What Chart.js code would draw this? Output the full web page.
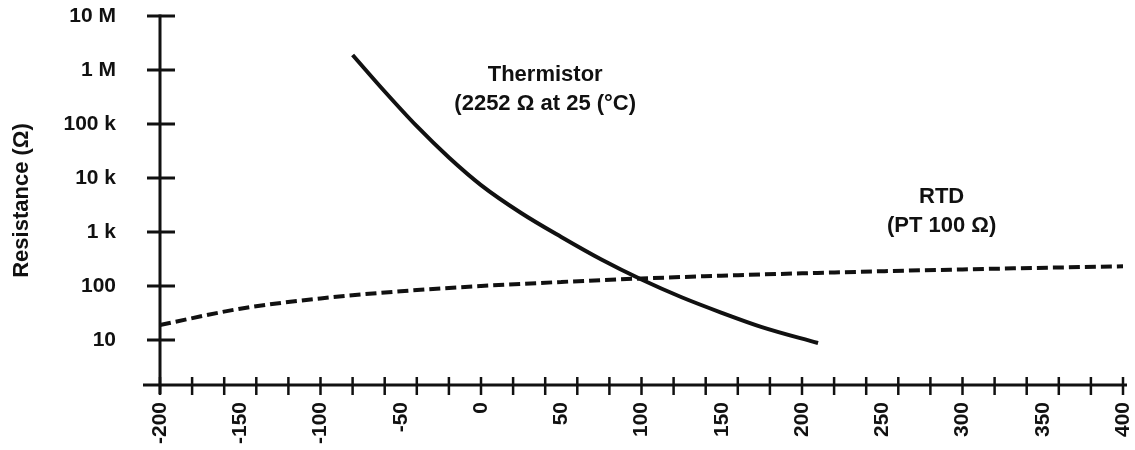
<!DOCTYPE html>
<html>
<head>
<meta charset="utf-8">
<script src="https://cdn.jsdelivr.net/npm/chart.js@4/dist/chart.umd.min.js"></script>
<style>
  body { margin: 0; background: #fff; }
  #wrap { width: 1135px; height: 450px; }
</style>
</head>
<body>
<div id="wrap"><canvas id="chart"></canvas></div>
<script>
// Thermistor vs RTD resistance, log y axis

const thermTemps = [-80, -60, -40, -20, 0, 25, 50, 75, 100, 125, 150, 175, 210];
const thermOhms = [1.9e6, 4.0e5, 9.1e4, 2.4e4, 7.4e3, 2252, 810, 310, 132, 62, 32, 17.4, 8.8];

const rtdTemps = [-200, -150, -100, -50, 0, 50, 100, 200, 300, 400];
const rtdOhms = [19, 38, 59, 80, 100, 119, 138, 172, 203, 232];

const yTickValues = [10, 100, 1e3, 1e4, 1e5, 1e6, 1e7];
const yTickLabels = ['10', '100', '1 k', '10 k', '100 k', '1 M', '10 M'];
const xLabelValues = [-200, -150, -100, -50, 0, 50, 100, 150, 200, 250, 300, 350, 400];
const xMarkStep = 20;

const notes = [
  { lines: ['Thermistor', '(2252 Ω at 25 (°C)'], x: 40, y: 4.45e5 },
  { lines: ['RTD', '(PT 100 Ω)'], x: 287, y: 2450 }
];

const FONT = '"Liberation Sans", Arial, sans-serif';
const INK = '#111';

const toPoints = (xs, ys) => xs.map((v, i) => ({ x: v, y: ys[i] }));

// keep the plot box fixed, no extra label padding
const noPad = s => { s.paddingLeft = s.paddingRight = s.paddingTop = s.paddingBottom = 0; };

// axis lines and tick marks that cross the axes
const axisMarks = {
  id: 'axisMarks',
  beforeDatasetsDraw(chart) {
    const { ctx, chartArea: a, scales: { x, y } } = chart;
    ctx.save();
    ctx.strokeStyle = INK;
    ctx.lineCap = 'butt';

    ctx.lineWidth = 3;
    ctx.beginPath();
    ctx.moveTo(a.left - 17, a.bottom);
    ctx.lineTo(a.right + 4, a.bottom);
    ctx.moveTo(a.left, a.top - 1.5);
    ctx.lineTo(a.left, a.bottom + 9);
    ctx.stroke();

    ctx.beginPath();
    yTickValues.forEach(v => {
      const py = y.getPixelForValue(v);
      ctx.moveTo(a.left - 13, py);
      ctx.lineTo(a.left + 15, py);
    });
    ctx.stroke();

    ctx.lineWidth = 2.5;
    ctx.beginPath();
    for (let v = x.min; v <= x.max; v += xMarkStep) {
      const px = x.getPixelForValue(v);
      ctx.moveTo(px, a.bottom - 8);
      ctx.lineTo(px, a.bottom + 10);
    }
    ctx.stroke();
    ctx.restore();
  },
  afterDraw(chart) {
    const { ctx, scales: { x, y } } = chart;
    ctx.save();
    ctx.fillStyle = INK;
    ctx.font = 'bold 22px ' + FONT;
    ctx.textAlign = 'center';
    ctx.textBaseline = 'middle';
    notes.forEach(n => {
      const cx = x.getPixelForValue(n.x);
      const cy = y.getPixelForValue(n.y);
      const top = cy - (n.lines.length - 1) * 29 / 2;
      n.lines.forEach((t, i) => ctx.fillText(t, cx, top + i * 29));
    });
    ctx.restore();
  }
};

new Chart(document.getElementById('chart'), {
  type: 'scatter',
  data: {
    datasets: [
      {
        label: 'Thermistor',
        data: toPoints(thermTemps, thermOhms),
        showLine: true,
        borderColor: INK,
        borderWidth: 4,
        pointRadius: 0,
        cubicInterpolationMode: 'monotone',
        clip: 6
      },
      {
        label: 'RTD',
        data: toPoints(rtdTemps, rtdOhms),
        showLine: true,
        borderColor: INK,
        borderWidth: 4,
        borderDash: [11, 5],
        pointRadius: 0,
        cubicInterpolationMode: 'monotone',
        clip: 6
      }
    ]
  },
  options: {
    responsive: true,
    maintainAspectRatio: false,
    animation: false,
    layout: { padding: { top: 16, right: 12, left: 0, bottom: 0 } },
    plugins: { legend: { display: false }, tooltip: { enabled: false } },
    scales: {
      x: {
        type: 'linear',
        min: -200,
        max: 400,
        afterBuildTicks: s => { s.ticks = xLabelValues.map(v => ({ value: v })); },
        afterFit: s => { s.height = 65; noPad(s); },
        grid: { display: false, drawTicks: false, tickLength: 0 },
        border: { display: false },
        ticks: {
          color: INK,
          font: { family: FONT, size: 21, weight: 'bold', lineHeight: 1 },
          minRotation: 90,
          maxRotation: 90,
          padding: 17,
          autoSkip: false,
          callback: v => String(v)
        }
      },
      y: {
        type: 'logarithmic',
        min: 1.47,
        max: 1e7,
        afterBuildTicks: s => { s.ticks = yTickValues.map(v => ({ value: v })); },
        afterFit: s => { s.width = 160; noPad(s); },
        grid: { display: false, drawTicks: false, tickLength: 0 },
        border: { display: false },
        title: {
          display: true,
          text: 'Resistance (Ω)',
          color: INK,
          font: { family: FONT, size: 22, weight: 'bold' },
          padding: { top: 9, bottom: 0 }
        },
        ticks: {
          color: INK,
          font: { family: FONT, size: 21, weight: 'bold' },
          padding: 44,
          autoSkip: false,
          callback: v => yTickLabels[yTickValues.indexOf(v)] ?? ''
        }
      }
    }
  },
  plugins: [axisMarks]
});
</script>
</body>
</html>
